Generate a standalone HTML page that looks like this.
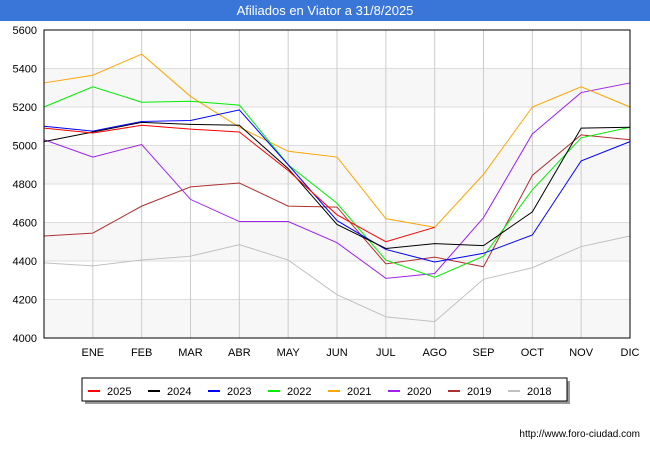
<!DOCTYPE html>
<html><head><meta charset="utf-8"><style>
body{margin:0;width:650px;height:450px;background:#fff;font-family:"Liberation Sans",sans-serif;overflow:hidden}
</style></head><body>
<svg id="c" width="650" height="450" xmlns="http://www.w3.org/2000/svg"></svg>
<script>
const months=["ENE","FEB","MAR","ABR","MAY","JUN","JUL","AGO","SEP","OCT","NOV","DIC"];
const yTicks=[4000,4200,4400,4600,4800,5000,5200,5400,5600];
const seriesNames=["2025","2024","2023","2022","2021","2020","2019","2018"];
const seriesColors=["#ff0000","#000000","#0000ff","#00ee00","#ffa500","#a020f0","#b03030","#c0c0c0"];
const s2025=[5090,5065,5105,5085,5070,4870,4640,4500,4575];
const s2024=[5020,5070,5120,5110,5105,4880,4590,4465,4490,4480,4655,5090,5095];
const s2023=[5100,5075,5125,5130,5185,4900,4610,4460,4395,4440,4535,4920,5020];
const s2022=[5200,5305,5225,5230,5210,4900,4700,4405,4315,4425,4770,5040,5095];
const s2021=[5325,5365,5475,5255,5095,4970,4940,4620,4575,4850,5200,5305,5200];
const s2020=[5030,4940,5005,4720,4605,4605,4495,4310,4335,4625,5060,5275,5325];
const s2019=[4530,4545,4685,4785,4805,4685,4680,4385,4420,4370,4845,5055,5030];
const s2018=[4390,4375,4405,4425,4485,4405,4225,4110,4085,4305,4365,4475,4530];
const allSeries=[s2025,s2024,s2023,s2022,s2021,s2020,s2019,s2018];
const NS="http://www.w3.org/2000/svg";
const svg=document.getElementById('c');
const L=44,R=630,T=30,B=338;
const x=i=>L+i*(R-L)/12;
const y=v=>B-(v-4000)/1600*(B-T);
function mk(t,a,p){const e=document.createElementNS(NS,t);for(const k in a)e.setAttribute(k,a[k]);(p||svg).appendChild(e);return e;}
let e=mk('rect',{x:0,y:0,width:650,height:21,fill:'#3a75d8'});


e=mk('text',{x:325,y:15,'text-anchor':'middle',fill:'#fff','font-size':13});e.textContent='Afiliados en Viator a 31/8/2025';


for(let k=0;k<yTicks.length-1;k++){if(k%2==0){e=mk('rect',{x:L,y:y(yTicks[k+1]),width:R-L,height:y(yTicks[k])-y(yTicks[k+1]),fill:'#f7f7f7'});

}}
yTicks.forEach(v=>{e=mk('line',{x1:L,x2:R,y1:y(v),y2:y(v),stroke:'#dddddd'});


e=mk('text',{x:L-7,y:y(v)+4,'text-anchor':'end','font-size':11,fill:'#000'});e.textContent=v;

});
months.forEach((m,i)=>{e=mk('line',{x1:x(i+1),x2:x(i+1),y1:T,y2:B,stroke:'#cccccc'});


e=mk('text',{x:x(i+1),y:356,'text-anchor':'middle','font-size':11,fill:'#000'});e.textContent=m;

});
for(let s=allSeries.length-1;s>=0;s--){const pts=allSeries[s].map((v,i)=>x(i)+','+y(v)).join(' ');
e=mk('polyline',{points:pts,fill:'none',stroke:seriesColors[s],'stroke-width':1});

}
e=mk('rect',{x:L,y:T,width:R-L,height:B-T,fill:'none',stroke:'#000'});


mk('rect',{x:85,y:381,width:485,height:23,fill:'#999'});
e=mk('rect',{x:82,y:378,width:485,height:23,fill:'#fff',stroke:'#000'});


seriesNames.forEach((n,i)=>{const lx=88+i*60;
e=mk('line',{x1:lx,x2:lx+12,y1:391,y2:391,stroke:seriesColors[i],'stroke-width':2});


e=mk('text',{x:lx+19,y:395,'font-size':11,fill:'#000'});e.textContent=n;

});
e=mk('text',{x:640,y:437,'text-anchor':'end','font-size':10,fill:'#000'});e.textContent='http://www.foro-ciudad.com';


</script>
</body></html>
